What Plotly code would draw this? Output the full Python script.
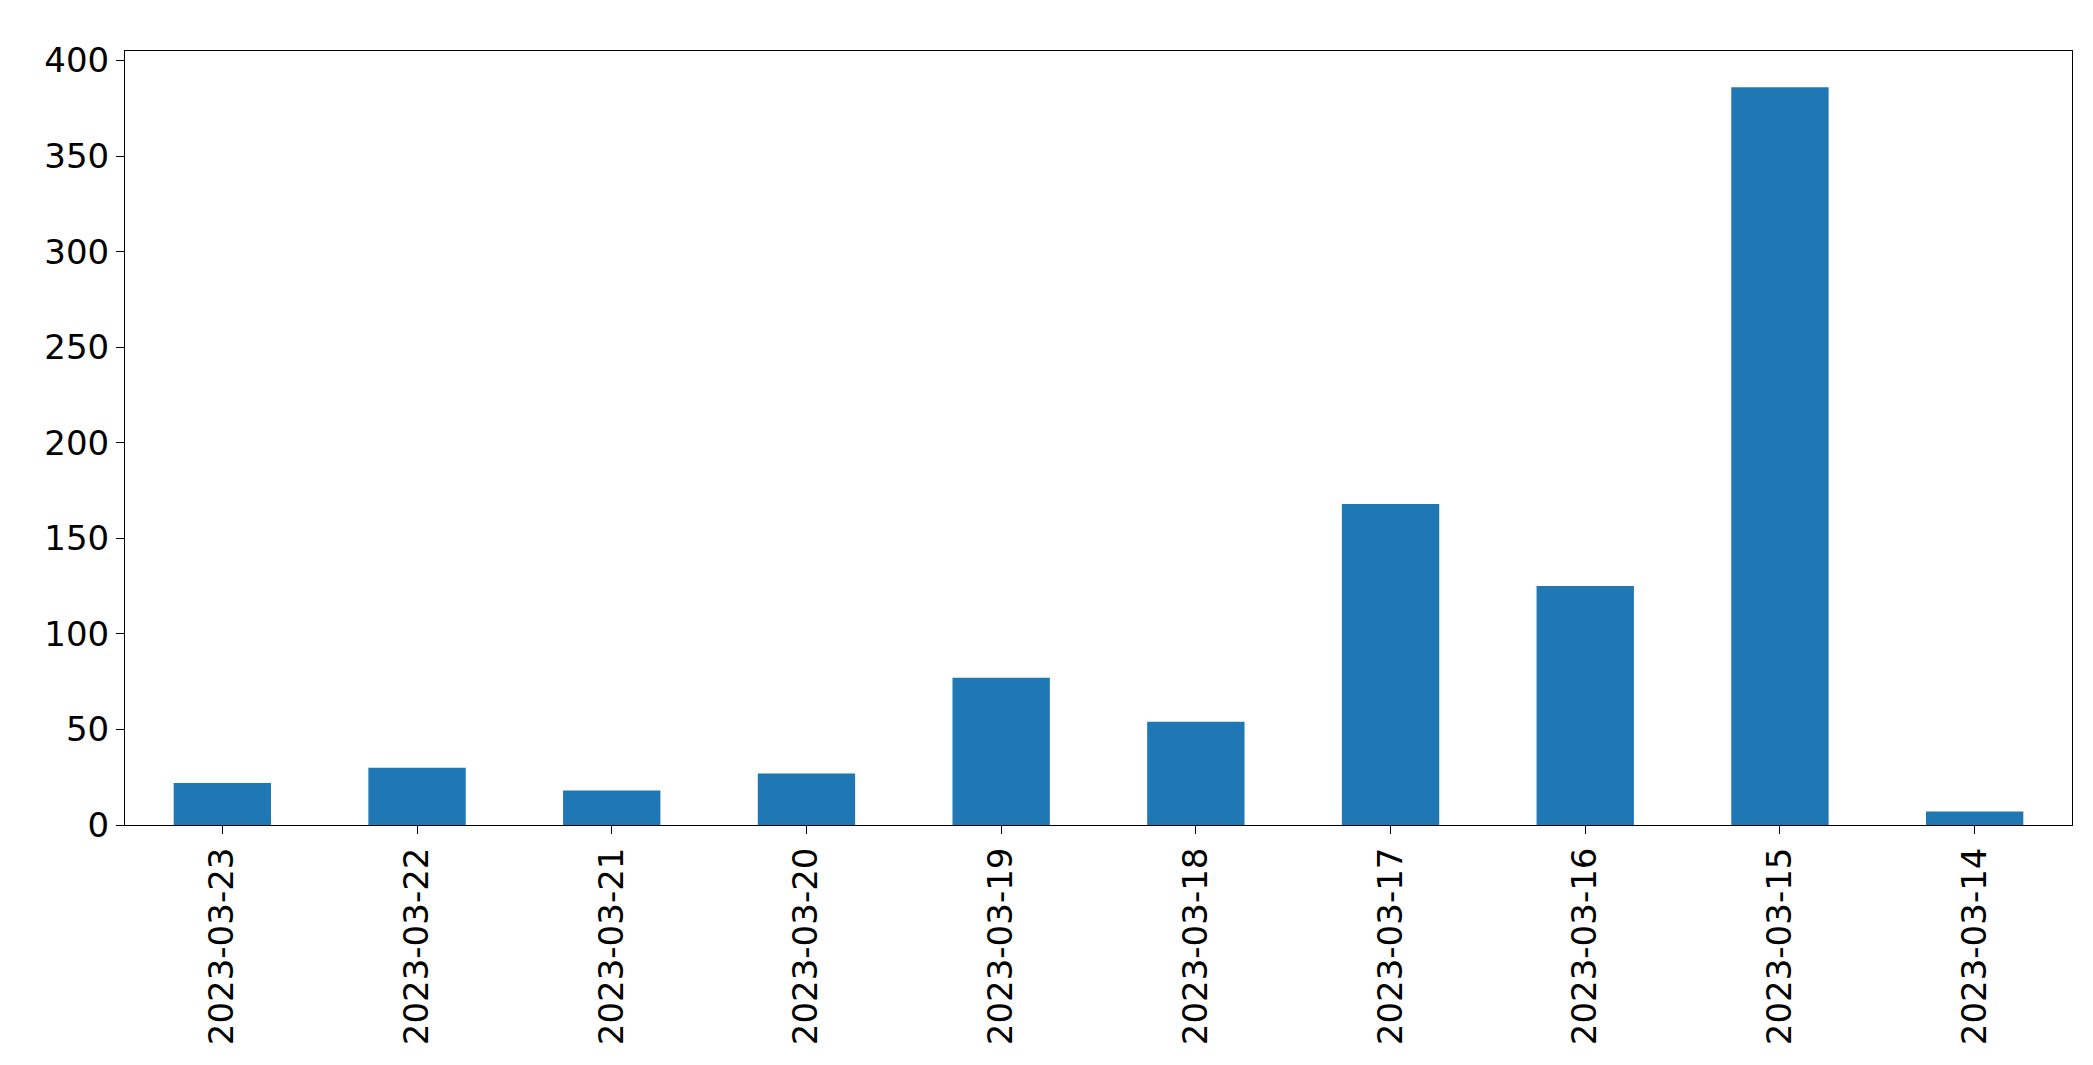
import plotly.graph_objects as go

dates = ["2023-03-23","2023-03-22","2023-03-21","2023-03-20","2023-03-19",
         "2023-03-18","2023-03-17","2023-03-16","2023-03-15","2023-03-14"]
counts = [22, 30, 18, 27, 77, 54, 168, 125, 386, 7]
y_ticks = [0, 50, 100, 150, 200, 250, 300, 350, 400]

fig = go.Figure(go.Bar(x=dates, y=counts, width=0.5, marker_color="#1f77b4",
                       marker_line_width=0))
fig.update_layout(
    width=2093, height=1065, plot_bgcolor="white", paper_bgcolor="white",
    margin=dict(l=117, r=29, t=43, b=248), showlegend=False,
    font=dict(family="DejaVu Sans", size=34, color="black"),
)
fig.update_xaxes(type="category", range=[-0.5, 9.5], tickangle=-90,
                 showline=True, linecolor="black", mirror=True, ticks="outside",
                 ticklen=8, tickcolor="black", showgrid=False)
fig.update_yaxes(range=[0, 405], tickvals=y_ticks, showline=True, linecolor="black",
                 mirror=True, ticks="outside", ticklen=8, tickcolor="black",
                 showgrid=False, zeroline=False)
fig.write_html("out.html")
